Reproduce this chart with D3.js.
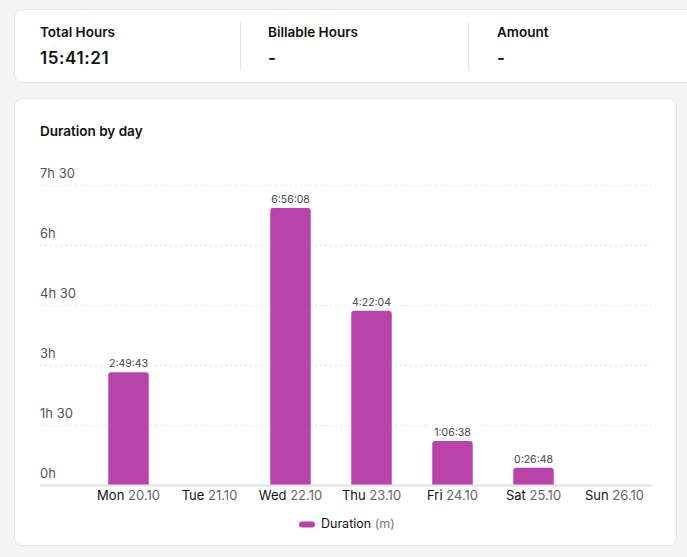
<!DOCTYPE html>
<html>
<head>
<meta charset="utf-8">
<script src="https://cdn.jsdelivr.net/npm/d3@7"></script>
<style>
  html, body { margin: 0; padding: 0; background: #f4f4f4; }
  svg { display: block; font-family: Inter, "Noto Sans", sans-serif; }
</style>
</head>
<body>
<svg id="chart" width="687" height="557"></svg>
<script>
// summary figures
var summary_labels = ["Total Hours", "Billable Hours", "Amount"];
var summary_values = ["15:41:21", "-", "-"];

// one bar per day, duration in seconds
var day_names = ["Mon", "Tue", "Wed", "Thu", "Fri", "Sat", "Sun"];
var day_dates = ["20.10", "21.10", "22.10", "23.10", "24.10", "25.10", "26.10"];
var durations = [10183, 0, 24968, 15724, 3998, 1608, 0];

// y ticks in minutes
var tick_values = [0, 90, 180, 270, 360, 450];
var tick_labels = ["0h", "1h 30", "3h", "4h 30", "6h", "7h 30"];

var days = day_names.map(function(d, i) {
    return {name: d, date: day_dates[i], secs: durations[i], mins: durations[i] / 60};
});

function fmt(s) {
    var h = Math.floor(s / 3600), m = Math.floor(s % 3600 / 60), sec = s % 60;
    return h + ":" + String(m).padStart(2, "0") + ":" + String(sec).padStart(2, "0");
}

var svg = d3.select("#chart");

// cards
svg.append("rect")
    .attr("x", 14.5).attr("y", 9.5).attr("width", 700).attr("height", 73)
    .attr("rx", 8).attr("fill", "#fff").attr("stroke", "#e6e6e6");
svg.append("rect")
    .attr("x", 14.5).attr("y", 98.5).attr("width", 662).attr("height", 447)
    .attr("rx", 8).attr("fill", "#fff").attr("stroke", "#e6e6e6");

// summary blocks
var sx = [40, 268, 497];
var summary = svg.append("g").selectAll("g")
    .data(summary_labels)
    .enter()
    .append("g")
    .attr("transform", function(d, i) { return "translate(" + sx[i] + ",0)"; });
summary.append("text")
    .attr("y", 37)
    .attr("font-size", 13.5).attr("font-weight", 600).attr("fill", "#111")
    .text(function(d) { return d; });
summary.append("text")
    .attr("y", 64)
    .attr("font-size", 17).attr("font-weight", 600).attr("fill", "#111")
    .attr("letter-spacing", 0.6)
    .text(function(d, i) { return summary_values[i]; });
svg.append("g").selectAll("line")
    .data([240, 468])
    .enter()
    .append("line")
    .attr("x1", function(d) { return d + 0.5; })
    .attr("x2", function(d) { return d + 0.5; })
    .attr("y1", 22).attr("y2", 70)
    .attr("stroke", "#e3e3e3");

// title
svg.append("text")
    .attr("x", 40).attr("y", 136)
    .attr("font-size", 13.5).attr("font-weight", 600).attr("fill", "#111")
    .text("Duration by day");

// scales
const x = d3.scaleBand()
    .domain(day_names)
    .range([88, 655])
    .paddingInner(0.5)
    .paddingOuter(0.25);

const y = d3.scaleLinear()
    .domain([0, 450])
    .range([485.5, 185.5]);

// grid + tick labels
var grid = svg.append("g");
grid.selectAll("line")
    .data(tick_values.slice(1))
    .enter()
    .append("line")
    .attr("x1", 40).attr("x2", 651)
    .attr("y1", function(d) { return y(d); })
    .attr("y2", function(d) { return y(d); })
    .attr("stroke", "#dcdcdc")
    .attr("stroke-dasharray", "2,3");
grid.selectAll("text")
    .data(tick_values)
    .enter()
    .append("text")
    .attr("x", 40)
    .attr("y", function(d) { return y(d) - 8; })
    .attr("font-size", 13).attr("fill", "#555")
    .text(function(d, i) { return tick_labels[i]; });

// bars, rounded tops
var r = 3;
svg.append("g").selectAll("path")
    .data(days.filter(function(d) { return d.secs > 0; }))
    .enter()
    .append("path")
    .attr("fill", "#b844a9")
    .attr("d", function(d) {
        var x0 = x(d.name), w = x.bandwidth(), y0 = y(d.mins), y1 = y(0);
        return "M" + x0 + "," + y1 + "V" + (y0 + r) +
            "Q" + x0 + "," + y0 + " " + (x0 + r) + "," + y0 +
            "H" + (x0 + w - r) +
            "Q" + (x0 + w) + "," + y0 + " " + (x0 + w) + "," + (y0 + r) +
            "V" + y1 + "Z";
    });

// value labels with white backing
var vl = svg.append("g").selectAll("g")
    .data(days.filter(function(d) { return d.secs > 0; }))
    .enter()
    .append("g")
    .attr("transform", function(d) {
        return "translate(" + (x(d.name) + x.bandwidth() / 2) + "," + (y(d.mins) - 5) + ")";
    });
vl.append("rect")
    .attr("x", -25).attr("y", -11).attr("width", 50).attr("height", 13)
    .attr("fill", "#fff");
vl.append("text")
    .attr("text-anchor", "middle")
    .attr("font-size", 10.5).attr("fill", "#444")
    .text(function(d) { return fmt(d.secs); });

// x axis
svg.append("line")
    .attr("x1", 40).attr("x2", 652)
    .attr("y1", 485.5).attr("y2", 485.5)
    .attr("stroke", "#e2e2e2").attr("stroke-width", 2);

var xl = svg.append("g").selectAll("text")
    .data(days)
    .enter()
    .append("text")
    .attr("x", function(d) { return x(d.name) + x.bandwidth() / 2; })
    .attr("y", 500)
    .attr("text-anchor", "middle")
    .attr("font-size", 13);
xl.append("tspan").attr("fill", "#111").text(function(d) { return d.name + " "; });
xl.append("tspan").attr("fill", "#666").text(function(d) { return d.date; });

// legend
svg.append("rect")
    .attr("x", 299).attr("y", 521.5).attr("width", 16).attr("height", 6)
    .attr("rx", 3).attr("fill", "#b844a9");
var lg = svg.append("text")
    .attr("x", 321).attr("y", 528)
    .attr("font-size", 12.5);
lg.append("tspan").attr("fill", "#111").text("Duration ");
lg.append("tspan").attr("fill", "#777").text("(m)");
</script>
</body>
</html>
